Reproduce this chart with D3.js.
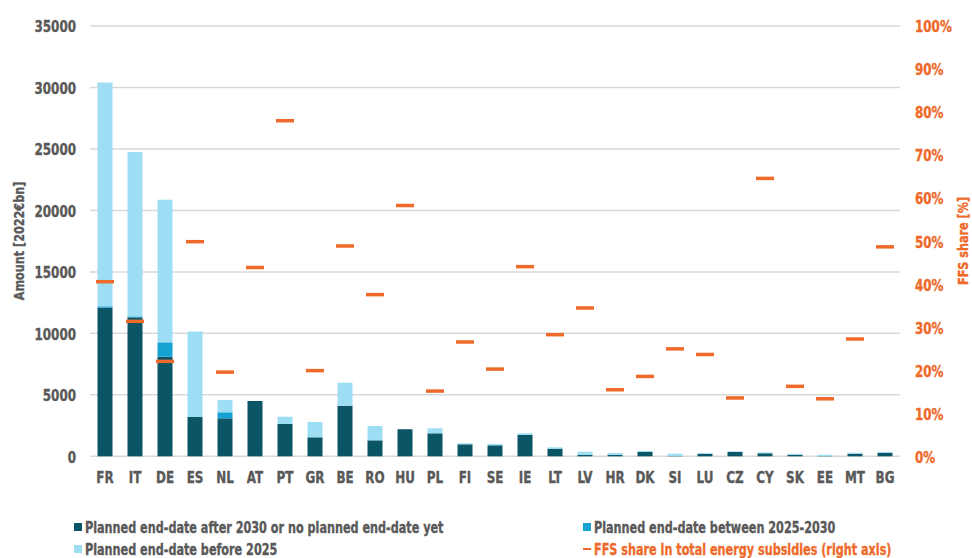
<!DOCTYPE html>
<html><head><meta charset="utf-8">
<script src="https://cdn.jsdelivr.net/npm/d3@7"></script>
<style>
html,body{margin:0;padding:0;background:#fff;}
svg text{font-family:"DejaVu Sans Condensed","DejaVu Sans",sans-serif;font-weight:bold;stroke-width:0.35px;}
</style></head><body>
<svg id="c" width="972" height="558"></svg>
<script>
const countries = ["FR","IT","DE","ES","NL","AT","PT","GR","BE","RO","HU","PL","FI","SE","IE","LT","LV","HR","DK","SI","LU","CZ","CY","SK","EE","MT","BG"];
const after2030 = [12100,11300,8100,3200,3090,4500,2630,1545,4115,1300,2200,1870,976,895,1733,620,105,105,350,20,190,350,245,130,20,210,290];
const between2025_2030 = [100,80,1170,0,490,0,0,0,0,0,0,0,0,0,0,0,0,0,0,0,0,0,0,0,0,0,0];
const before2025 = [18200,13370,11600,6950,1000,0,590,1245,1875,1165,0,408,80,105,137,112,270,165,80,190,80,57,80,80,110,80,60];
const ffsShare = [40.6,31.4,22.1,49.9,19.6,43.9,78.0,19.95,48.9,37.6,58.3,15.2,26.6,20.3,44.1,28.3,34.5,15.5,18.6,25.0,23.7,13.6,64.6,16.3,13.4,27.3,48.7];
const leftTicks = [0,5000,10000,15000,20000,25000,30000,35000];
const rightTicks = [0,10,20,30,40,50,60,70,80,90,100];
const seriesNames = ["Planned end-date after 2030 or no planned end-date yet","Planned end-date between 2025-2030","Planned end-date before 2025","FFS share in total energy subsidies (right axis)"];

const colors = {after:"#0A5566", between:"#17A2D4", before:"#9DDEF5", ffs:"#EF6A2A", text:"#595959", grid:"#D9D9D9"};
const SX = "scale(0.83,1)";
const svg = d3.select("#c");
const x = d3.scaleBand().domain(countries).range([90,900]).paddingInner(0.5).paddingOuter(0.25);
const yL = d3.scaleLinear().domain([0,35000]).range([456.3,26]);
const yR = d3.scaleLinear().domain([0,100]).range([456.5,26]);

// gridlines
svg.append("g").selectAll("line").data(leftTicks).join("line")
  .attr("x1",90).attr("x2",900).attr("y1",d=>yL(d)).attr("y2",d=>yL(d))
  .attr("stroke",colors.grid).attr("stroke-width",1.5);

// left axis
const gl = svg.append("g").attr("transform","translate(76,0)")
  .call(d3.axisLeft(yL).tickValues(leftTicks).tickSize(0).tickPadding(0).tickFormat(d3.format("d")));
gl.select(".domain").remove();
gl.selectAll("text").attr("fill",colors.text).attr("stroke",colors.text).style("font-size","16px").attr("dy","0.36em").attr("transform",SX);

// right axis
const gr = svg.append("g").attr("transform","translate(915,0)")
  .call(d3.axisRight(yR).tickValues(rightTicks).tickSize(0).tickPadding(0).tickFormat(d=>d+"%"));
gr.select(".domain").remove();
gr.selectAll("text").attr("fill",colors.ffs).attr("stroke",colors.ffs).style("font-size","16px").attr("dy","0.36em").attr("transform",SX);

// x axis
const gx = svg.append("g").attr("transform","translate(0,471.5)")
  .call(d3.axisBottom(x).tickSize(0).tickPadding(0));
gx.select(".domain").remove();
gx.selectAll("text").attr("fill",colors.text).attr("stroke",colors.text).style("font-size","16px").attr("dy","0.71em").attr("transform",SX);

// stacked bars
const rows = countries.map((c,i)=>({c, after:after2030[i], between:between2025_2030[i], before:before2025[i]}));
const stack = d3.stack().keys(["after","between","before"])(rows);
svg.append("g").selectAll("g").data(stack).join("g")
  .attr("fill",d=>colors[d.key])
  .selectAll("rect").data(d=>d).join("rect")
  .attr("x",d=>x(d.data.c)).attr("width",x.bandwidth())
  .attr("y",d=>yL(d[1])).attr("height",d=>Math.max(0,yL(d[0])-yL(d[1])));

// ffs markers
svg.append("g").selectAll("rect").data(countries).join("rect")
  .attr("x",d=>x(d)+x.bandwidth()/2-9).attr("width",18)
  .attr("y",(d,i)=>yR(ffsShare[i])-1.75).attr("height",3.5)
  .attr("fill",colors.ffs);

// axis titles
svg.append("text").attr("transform","translate(24,241) rotate(-90) scale(0.86,1)")
  .attr("text-anchor","middle").attr("fill",colors.text).attr("stroke",colors.text).style("font-size","14.5px")
  .text("Amount [2022€bn]");
svg.append("text").attr("transform","translate(968,241) rotate(-90) scale(0.86,1)")
  .attr("text-anchor","middle").attr("fill",colors.ffs).attr("stroke",colors.ffs).style("font-size","14.5px")
  .text("FFS share [%]");

// legend
const leg = [
  {x:74,y:527,type:"sq",color:colors.after,label:seriesNames[0],tc:colors.text},
  {x:583,y:527,type:"sq",color:colors.between,label:seriesNames[1],tc:colors.text},
  {x:74,y:549,type:"sq",color:colors.before,label:seriesNames[2],tc:colors.text},
  {x:583,y:549,type:"dash",color:colors.ffs,label:seriesNames[3],tc:colors.ffs}
];
const lg = svg.append("g").selectAll("g").data(leg).join("g").attr("transform",d=>`translate(${d.x},${d.y})`);
lg.append("rect").attr("x",0).attr("width",8)
  .attr("y",d=>d.type==="sq"?-4:-1).attr("height",d=>d.type==="sq"?8:2).attr("fill",d=>d.color);
lg.append("g").attr("transform","translate(11,0)").append("text")
  .attr("dy","0.36em").attr("fill",d=>d.tc).attr("stroke",d=>d.tc).style("font-size","16px")
  .attr("transform","scale(0.78,1)").text(d=>d.label);
</script>
</body></html>
